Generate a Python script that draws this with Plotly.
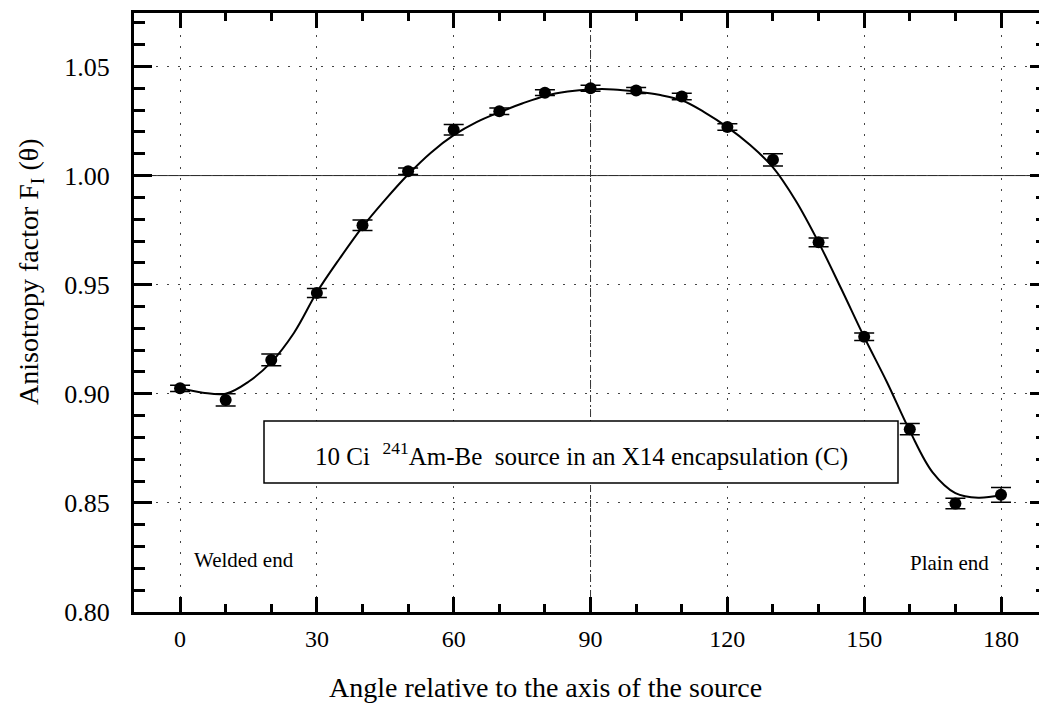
import plotly.graph_objects as go

# Measured anisotropy factor vs. angle (degrees)
angles = [0, 10, 20, 30, 40, 50, 60, 70, 80, 90, 100, 110, 120, 130, 140, 150, 160, 170, 180]
factor = [0.9025, 0.8972, 0.9155, 0.9462, 0.9772, 1.0020, 1.0210, 1.0295, 1.0380, 1.0400,
          1.0390, 1.0362, 1.0223, 1.0072, 0.9694, 0.9261, 0.8838, 0.8497, 0.8537]
factor_err = [0.0014, 0.0028, 0.0027, 0.0021, 0.0024, 0.0015, 0.0024, 0.0015, 0.0013, 0.0014,
              0.0014, 0.0015, 0.0015, 0.0028, 0.0020, 0.0017, 0.0026, 0.0024, 0.0034]

# Smooth fitted curve sampled every 5 degrees
fit_angles = list(range(0, 181, 5))
fit_values = [0.9025, 0.9005, 0.9000, 0.9055, 0.9145, 0.9280, 0.9465, 0.9620, 0.9765, 0.9890,
              1.0005, 1.0105, 1.0185, 1.0245, 1.0290, 1.0330, 1.0365, 1.0385, 1.0395, 1.0395,
              1.0385, 1.0370, 1.0345, 1.0290, 1.0222, 1.0140, 1.0038, 0.9885, 0.9694, 0.9480,
              0.9260, 0.9053, 0.8830, 0.8640, 0.8545, 0.8524, 0.8536]

x_ticks = [0, 30, 60, 90, 120, 150, 180]
y_ticks = [0.80, 0.85, 0.90, 0.95, 1.00, 1.05]

FONT = "Liberation Serif, Times New Roman, serif"
W, H = 1039, 705
ML, MR, MT, MB = 134, 0, 13, 93
PW, PH = W - ML - MR, H - MT - MB


def px(x):
    return (x - ML) / PW


def py(y):
    return (H - MB - y) / PH


fig = go.Figure()

fig.add_trace(go.Scatter(
    x=fit_angles, y=fit_values, mode="lines",
    line=dict(color="black", width=2, shape="spline", smoothing=1.0),
    hoverinfo="skip", showlegend=False,
))

fig.add_trace(go.Scatter(
    x=angles, y=factor, mode="markers",
    marker=dict(color="black", size=12),
    error_y=dict(type="data", array=factor_err, visible=True,
                 color="black", thickness=1.5, width=10),
    showlegend=False,
))

# invisible trace to anchor the right-hand tick axis
fig.add_trace(go.Scatter(x=[None], y=[None], yaxis="y2", showlegend=False))

grid_dash = "2px,9px"

fig.update_layout(
    width=W, height=H,
    margin=dict(l=ML, r=MR, t=MT, b=MB),
    paper_bgcolor="white", plot_bgcolor="white",
    font=dict(family=FONT, size=24, color="black"),
    xaxis=dict(
        range=[-10.1, 188.33], tickvals=x_ticks,
        ticks="inside", ticklen=15, tickwidth=3, tickcolor="black",
        minor=dict(dtick=10, tick0=0, ticks="inside", ticklen=8, tickwidth=3,
                   tickcolor="black", showgrid=False),
        showline=True, linewidth=3, linecolor="black", mirror="ticks",
        showgrid=True, gridcolor="#444", gridwidth=1, griddash=grid_dash,
        zeroline=False, tickfont=dict(size=24),
        ticklabelstandoff=3,
    ),
    yaxis=dict(
        range=[0.80, 1.0745], tickvals=y_ticks, tickformat=".2f",
        ticks="inside", ticklen=18, tickwidth=3, tickcolor="black",
        minor=dict(dtick=0.01, tick0=0.80, ticks="inside", ticklen=11, tickwidth=3,
                   tickcolor="black", showgrid=False),
        showline=True, linewidth=3, linecolor="black",
        showgrid=True, gridcolor="#444", gridwidth=1, griddash=grid_dash,
        zeroline=False, tickfont=dict(size=26),
        ticklabelstandoff=16,
    ),
    yaxis2=dict(
        overlaying="y", side="right", matches="y", range=[0.80, 1.0745],
        tickvals=y_ticks, showticklabels=False,
        ticks="inside", ticklen=9, tickwidth=3, tickcolor="black",
        minor=dict(dtick=0.01, tick0=0.80, ticks="inside", ticklen=3, tickwidth=3,
                   tickcolor="black", showgrid=False),
        showline=False, showgrid=False, zeroline=False,
    ),
)

# reference lines: unity level and the source mid-plane
fig.add_shape(type="line", xref="paper", x0=0, x1=1, yref="y", y0=1.0, y1=1.0,
              line=dict(color="#222", width=1), layer="below")
fig.add_shape(type="line", xref="x", x0=90, x1=90, yref="paper", y0=0, y1=1,
              line=dict(color="#333", width=1, dash="7px,3px,2px,3px"), layer="below")

# label box
fig.add_shape(type="rect", xref="paper", yref="paper",
              x0=px(264), x1=px(898), y0=py(483), y1=py(421),
              line=dict(color="black", width=1.5), fillcolor="white", layer="above")
fig.add_annotation(xref="paper", yref="paper", x=px(581), y=py(455),
                   text="10 Ci  <sup>241</sup>Am-Be  source in an X14 encapsulation (C)",
                   showarrow=False, font=dict(size=25), xanchor="center", yanchor="middle")

fig.add_annotation(xref="paper", yref="paper", x=px(192), y=py(560),
                   text="Welded end", showarrow=False, font=dict(size=21),
                   xanchor="left", yanchor="middle")
fig.add_annotation(xref="paper", yref="paper", x=px(991), y=py(563),
                   text="Plain end", showarrow=False, font=dict(size=21),
                   xanchor="right", yanchor="middle")

# axis titles
fig.add_annotation(xref="paper", yref="paper", x=px(545), y=py(687),
                   text="Angle relative to the axis of the source", showarrow=False,
                   font=dict(size=28), xanchor="center", yanchor="middle")
fig.add_annotation(xref="paper", yref="paper", x=px(30), y=py(272),
                   text="Anisotropy factor F<sub>I</sub> (θ)", showarrow=False,
                   font=dict(size=28), textangle=-90, xanchor="center", yanchor="middle")

fig.write_html("out.html")
